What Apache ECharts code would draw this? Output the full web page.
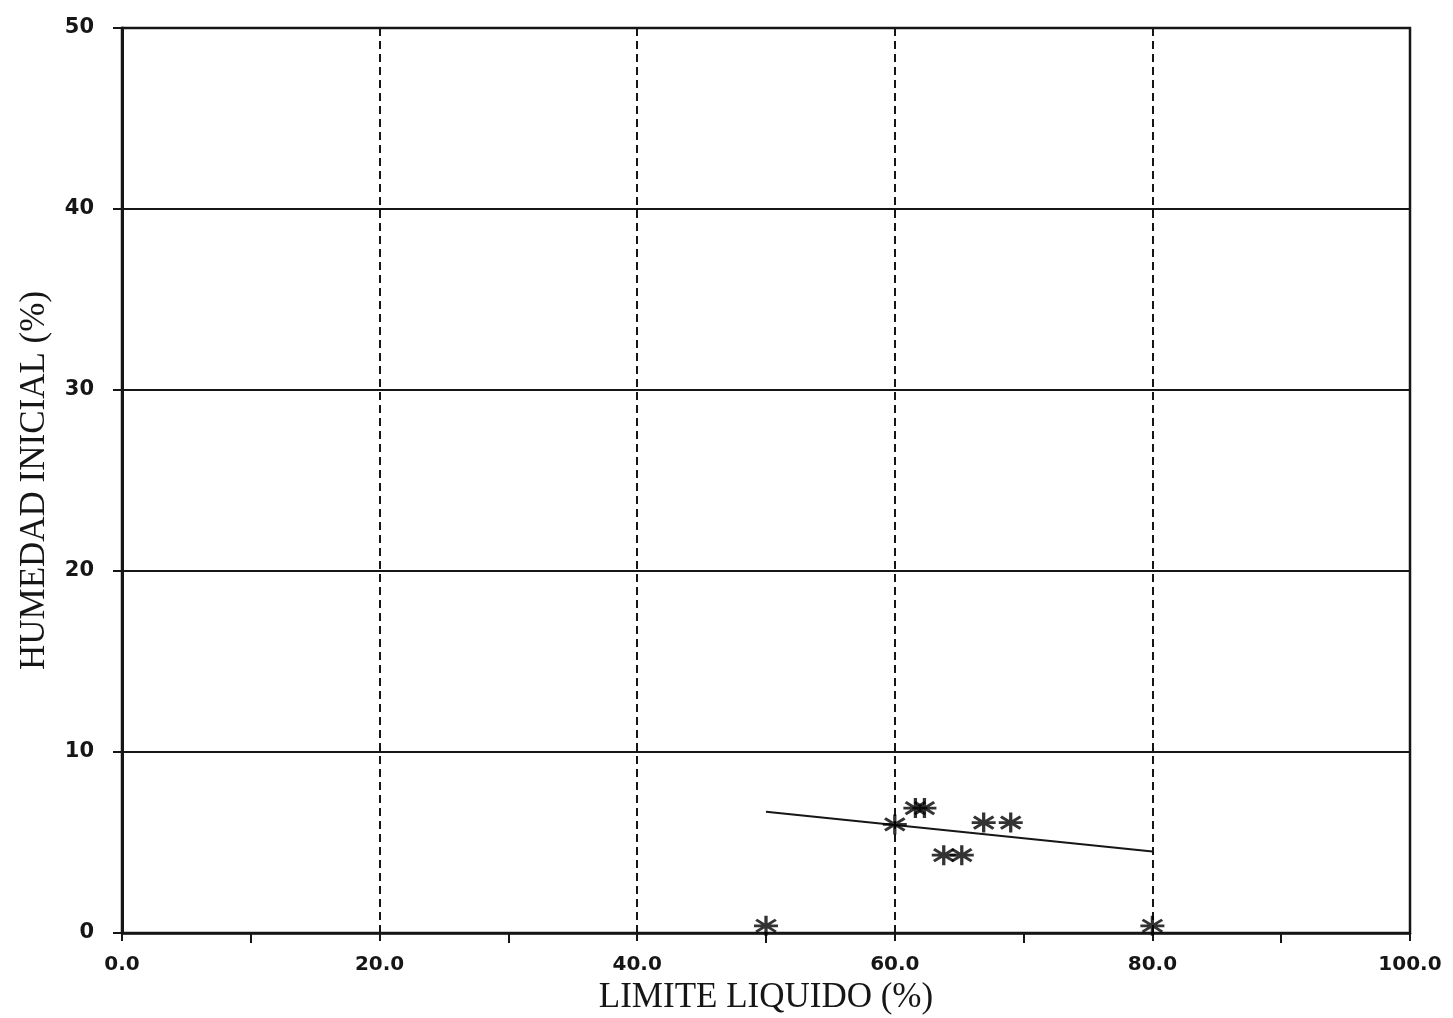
<!DOCTYPE html>
<html>
<head>
<meta charset="utf-8">
<script src="https://cdn.jsdelivr.net/npm/echarts@6/dist/echarts.min.js"></script>
<style>
  html, body { margin: 0; padding: 0; background: #fff; }
  #chart { width: 1453px; height: 1018px; }
</style>
</head>
<body>
<div id="chart"></div>
<script>
// Límite líquido (%) vs. humedad inicial (%) de las muestras
const limiteLiquido = [50, 60, 61.6, 62.3, 63.8, 65.2, 66.9, 69.0, 80];
const humedadInicial = [0.4, 6.0, 6.9, 6.9, 4.3, 4.3, 6.1, 6.1, 0.4];

// Recta de ajuste (extremos)
const ajusteX = [50, 80];
const ajusteY = [6.7, 4.5];

const ink = '#161616';
const asterisk = 'path://M0,-10L0,10M-9,-6L9,6M-9,6L9,-6M-11,0L11,0';

const chart = echarts.init(document.getElementById('chart'));
chart.setOption({
  backgroundColor: '#ffffff',
  animation: false,
  grid: {
    left: 122, right: 43, top: 28, bottom: 85,
    containLabel: false, outerBoundsMode: 'none',
    show: true, borderColor: ink, borderWidth: 2.5, backgroundColor: 'transparent'
  },
  xAxis: {
    type: 'value', min: 0, max: 100, interval: 20,
    name: 'LIMITE LIQUIDO (%)', nameLocation: 'middle', nameGap: 44,
    nameTextStyle: { fontFamily: 'Liberation Serif', fontSize: 35, color: ink },
    axisLine: { show: true, onZero: false, lineStyle: { color: ink, width: 2.5 } },
    axisTick: { show: true, inside: false, length: 8, lineStyle: { color: ink, width: 2 } },
    minorTick: { show: true, splitNumber: 2, length: 10, lineStyle: { color: ink, width: 2 } },
    axisLabel: {
      margin: 22, fontFamily: 'DejaVu Sans', fontWeight: 'bold', fontSize: 20, color: ink,
      formatter: v => v.toFixed(1)
    },
    splitLine: { show: true, lineStyle: { color: ink, width: 2, type: [8, 5] } }
  },
  yAxis: {
    type: 'value', min: 0, max: 50, interval: 10,
    name: 'HUMEDAD INICIAL (%)', nameLocation: 'middle', nameGap: 70, nameRotate: 90,
    nameTextStyle: { fontFamily: 'Liberation Serif', fontSize: 35, color: ink },
    axisLine: { show: true, onZero: false, lineStyle: { color: ink, width: 3 } },
    axisTick: { show: true, inside: false, length: 9, lineStyle: { color: ink, width: 2 } },
    axisLabel: {
      margin: 28, fontFamily: 'DejaVu Sans', fontWeight: 'bold', fontSize: 21, color: ink
    },
    splitLine: { show: true, lineStyle: { color: ink, width: 2 } }
  },
  series: [
    {
      type: 'line',
      data: ajusteX.map((x, i) => [x, ajusteY[i]]),
      showSymbol: false, symbol: 'none',
      lineStyle: { color: ink, width: 2 },
      z: 3
    },
    {
      type: 'scatter',
      data: limiteLiquido.map((x, i) => [x, humedadInicial[i]]),
      symbol: asterisk, symbolSize: [24, 20],
      itemStyle: { color: 'transparent', borderColor: '#000', borderWidth: 3 },
      z: 4
    }
  ]
});
</script>
</body>
</html>
